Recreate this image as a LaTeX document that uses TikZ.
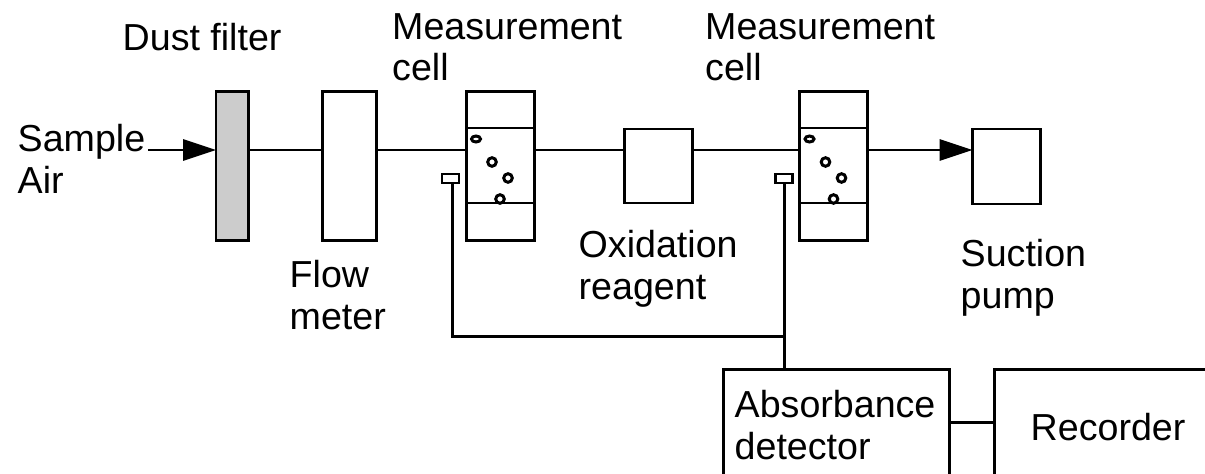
\documentclass[tikz,border=0pt]{standalone}
\usepackage{fontspec}
\setmainfont{Liberation Sans}
\usetikzlibrary{calc,arrows.meta}
\tikzset{
    unit/.style={draw,line width=0.85pt,outer sep=0pt,inner sep=0pt,minimum width=#1},
    unit/.default=0.68cm,
    label/.style={anchor=north west,align=left,inner sep=0pt,font=\fontsize{10.7}{11.7}\selectfont},
    pipe/.style={line width=0.85pt},
    flow/.style={line width=0.85pt,-{Triangle[length=0.33cm,width=0.21cm]}},
    bubble/.style={draw,line width=0.85pt,fill=white}
}
\begin{document}
\begin{tikzpicture}
    \useasboundingbox (0,0) rectangle (12.05,4.73);
    \clip (0,0) rectangle (12.05,4.73);
    \coordinate (intake) at (1.48,3.23);
    \node[unit=0.32cm,minimum height=1.49cm,fill=black!20] (filter) at (2.32,3.07) {};
    \node[unit=0.54cm,minimum height=1.49cm] (flowmeter) at (3.49,3.07) {};
    \node[unit,minimum height=0.74cm] (reagent) at (6.585,3.07) {};
    \node[unit,minimum height=0.75cm] (pump) at (10.065,3.065) {};
    \foreach \cellname/\cellx in {cellA/5.00,cellB/8.335} {
        \node[unit,minimum height=1.49cm] (\cellname) at (\cellx,3.07) {};
        \draw[pipe] ($(\cellname.west)+(0,0.38)$) -- ++(0.68,0);
        \draw[pipe] ($(\cellname.west)+(0,-0.37)$) -- ++(0.68,0);
        \draw[bubble] ($(\cellname)+(-0.24,0.27)$) ellipse (0.045 and 0.03);
        \draw[bubble] ($(\cellname)+(-0.08,0.04)$) circle (0.043);
        \draw[bubble] ($(\cellname)+(0.08,-0.12)$) circle (0.043);
        \draw[bubble] ($(\cellname)+(0,-0.33)$) circle (0.043);
        \node[draw,line width=0.7pt,outer sep=0pt,inner sep=0pt,minimum width=0.17cm,minimum height=0.09cm] (\cellname sensor) at ($(\cellname)+(-0.495,-0.125)$) {};
    }
    \node[unit=2.26cm,minimum height=1.2cm,anchor=north west] (detector) at (7.23,1.04) {};
    \node[unit=2.4cm,minimum height=1.2cm,anchor=north west] (recorder) at (9.94,1.04) {};
    \coordinate (junction) at (cellBsensor.south |- 0,1.37);

    \draw[flow] (intake) -- (filter.west |- intake);
    \draw[pipe] (filter.east |- intake) -- (flowmeter.west |- intake);
    \draw[pipe] (flowmeter.east |- intake) -- (cellA.west |- intake);
    \draw[pipe] (cellA.east |- intake) -- (reagent.west |- intake);
    \draw[pipe] (reagent.east |- intake) -- (cellB.west |- intake);
    \draw[flow] (cellB.east |- intake) -- (pump.west |- intake);
    \draw[pipe] ([xshift=0.015cm]cellAsensor.south) |- (junction);
    \draw[pipe] (cellBsensor.south) -- (cellBsensor.south |- detector.north);
    \draw[pipe] (detector.east |- 0,0.51) -- (recorder.west |- 0,0.51);

    \node[label] (dustlabel) at (1.22,4.50) {Dust filter};
    \node[label] (samplelabel) at (0.17,3.49) {Sample\\Air};
    \node[label] (flowlabel) at (2.89,2.13) {Flow\\meter};
    \node[label] (cellAlabel) at (3.915,4.60) {Measurement\\cell};
    \node[label] (cellBlabel) at (7.045,4.60) {Measurement\\cell};
    \node[label] (reagentlabel) at (5.78,2.43) {Oxidation\\reagent};
    \node[label] (pumplabel) at (9.60,2.34) {Suction\\pump};
    \node[label] (detectorlabel) at (7.34,0.83) {Absorbance\\detector};
    \node[label] (recorderlabel) at (10.30,0.60) {Recorder};
\end{tikzpicture}
\end{document}
